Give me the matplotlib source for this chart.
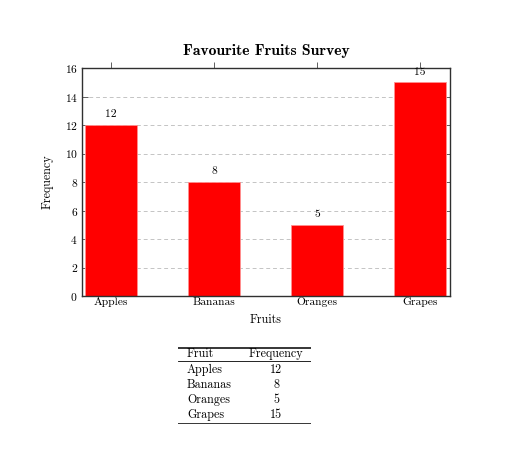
import matplotlib
matplotlib.use("Agg")
import matplotlib.pyplot as plt
import numpy as np

fruits = ["Apples", "Bananas", "Oranges", "Grapes"]
counts = [12, 8, 5, 15]
yticks = [0, 2, 4, 6, 8, 10, 12, 14, 16]
table_header = ["Fruit", "Frequency"]

plt.rcParams["font.family"] = "cmr10"
plt.rcParams["axes.formatter.use_mathtext"] = True

fig = plt.figure(figsize=(5.1, 4.7), dpi=100)
ax = fig.add_axes([82 / 510, 1 - 296 / 470, 368 / 510, 228 / 470])

x = np.arange(len(fruits))
ax.bar(x, counts, width=0.5, color="#ff0000", edgecolor="#ff9090",
       linewidth=0.6, zorder=2)
for xi, c in zip(x, counts):
    ax.annotate(str(c), (xi, c), xytext=(0, 4), textcoords="offset points",
                ha="center", va="bottom", fontsize=8.3)

ax.set_xlim(-0.28, 3.29)
ax.set_ylim(0, 16)
ax.set_yticks(yticks)
ax.set_xticks(x)
ax.set_xticklabels(fruits)
ax.grid(axis="y", linestyle=(0, (4, 3)), color="#c4c4c4", linewidth=0.7, zorder=0)

ax.tick_params(axis="x", which="both", bottom=False, top=True, direction="out",
               length=4, width=0.7, color="#606060", labelsize=8.3, pad=-3)
ax.tick_params(axis="y", which="both", left=True, right=True, direction="in",
               length=4, width=0.7, color="#606060", labelsize=8.3, pad=3)
for s in ax.spines.values():
    s.set_color("#303030")
    s.set_linewidth(1.0)

ax.set_xlabel("Fruits", fontsize=8.7, labelpad=5)
ax.set_ylabel("Frequency", fontsize=8.7, labelpad=8)
ax.set_title("Favourite Fruits Survey", fontsize=11.3, fontfamily="cmb10", pad=9)

# table under the chart
tb = fig.add_axes([178 / 510, 1 - 424 / 470, 133 / 510, 77 / 470])
tb.set_axis_off()
tb.set_xlim(0, 133)
tb.set_ylim(77, 0)
tb.plot([0, 133], [0.5, 0.5], color="black", lw=1.1)
tb.plot([0, 133], [14, 14], color="black", lw=0.6)
tb.plot([0, 133], [76.5, 76.5], color="black", lw=1.1)
tb.text(9, 7, table_header[0], ha="left", va="center", fontsize=8.7)
tb.text(98, 7, table_header[1], ha="center", va="center", fontsize=8.7)
for i, (f, c) in enumerate(zip(fruits, counts)):
    y = 23 + 15 * i
    tb.text(9, y, f, ha="left", va="center", fontsize=8.7)
    tb.text(98, y, str(c), ha="center", va="center", fontsize=8.7)

fig.savefig("out.png", dpi=100)
